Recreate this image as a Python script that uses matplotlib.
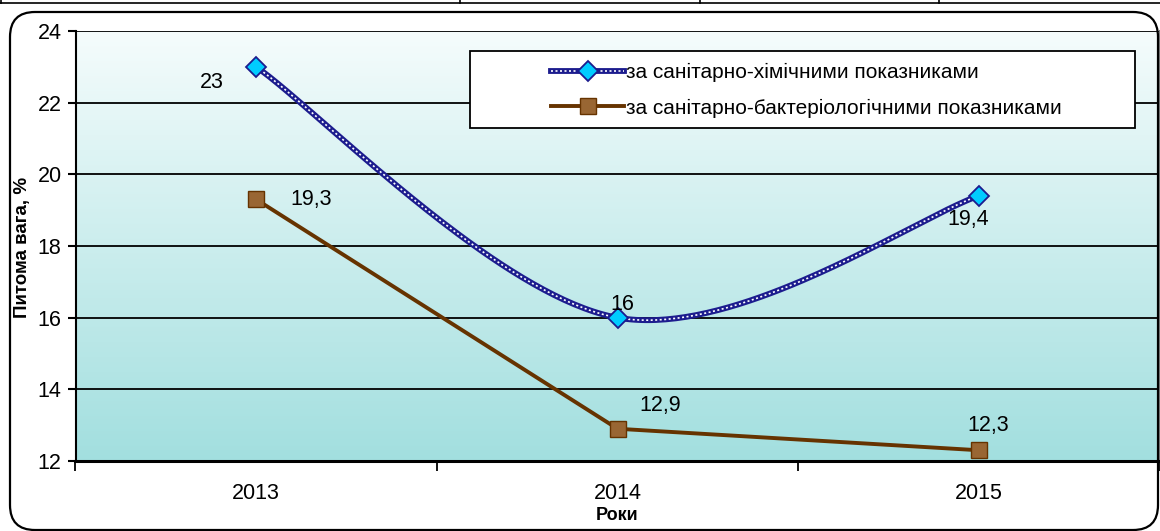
import matplotlib
matplotlib.use('Agg')
import matplotlib.pyplot as plt
import numpy as np
from matplotlib.colors import LinearSegmentedColormap
from matplotlib.patches import FancyBboxPatch, Rectangle
from matplotlib.lines import Line2D
from matplotlib.legend_handler import HandlerTuple

plt.rcParams['font.family'] = ['Liberation Sans', 'DejaVu Sans']

# data
years = ['2013', '2014', '2015']
chem = [23, 16, 19.4]
bact = [19.3, 12.9, 12.3]
chem_labels = ['23', '16', '19,4']
bact_labels = ['19,3', '12,9', '12,3']
name_chem = 'за санітарно-хімічними показниками'
name_bact = 'за санітарно-бактеріологічними показниками'

W, H = 1160, 531
fig = plt.figure(figsize=(W / 100, H / 100), dpi=100)

# smoothed line like excel (catmull-rom bezier)
def smooth(xs, ys, n=80):
    p = np.column_stack([xs, ys]).astype(float)
    res = []
    for i in range(len(p) - 1):
        p0 = p[max(i - 1, 0)]
        p1 = p[i]
        p2 = p[i + 1]
        p3 = p[min(i + 2, len(p) - 1)]
        c1 = p1 + (p2 - p0) / 6
        c2 = p2 - (p3 - p1) / 6
        t = np.linspace(0, 1, n)[:, None]
        b = (1 - t) ** 3 * p1 + 3 * (1 - t) ** 2 * t * c1 + 3 * (1 - t) * t ** 2 * c2 + t ** 3 * p2
        res.append(b)
    b = np.vstack(res)
    return b[:, 0], b[:, 1]

x = np.arange(len(years))

ax = fig.add_axes([75.5 / W, 1 - 461 / H, 1084 / W, 430 / H])
ax.set_xlim(-0.5, 2.5)
ax.set_ylim(12, 24)

# gradient background
cmap = LinearSegmentedColormap.from_list('bg', ['#f5fcfc', '#a2dfdf'])
ax.imshow(np.linspace(0, 1, 256).reshape(-1, 1), extent=[-0.5, 2.5, 12, 24],
          aspect='auto', cmap=cmap, origin='upper', zorder=0)

ax.set_yticks(np.arange(12, 25, 2))
ax.yaxis.grid(True, color='black', lw=1.3)
ax.set_axisbelow(True)
ax.tick_params(axis='y', length=6, width=1.5, labelsize=15.5, pad=4)

ax.set_xticks(x)
ax.set_xticklabels(years)
ax.set_xticks([-0.5, 0.5, 1.5, 2.5], minor=True)
ax.tick_params(axis='x', which='major', length=0, labelsize=15.5, pad=16)
ax.tick_params(axis='x', which='minor', length=7, width=1.3)

ax.spines['top'].set_visible(False)
ax.spines['left'].set_linewidth(1.5)
ax.spines['bottom'].set_linewidth(2.2)
ax.spines['right'].set_color('#808080')
ax.spines['right'].set_linewidth(1.5)

# chemical - smooth patterned line
blue = '#1c1c8e'
sx, sy = smooth(x, chem)
ax.plot(sx, sy, color=blue, lw=4.2, zorder=3, solid_capstyle='butt')
ax.plot(sx, sy, color='white', lw=1.2, ls=(0, (1.2, 1.5)), zorder=3.1)
ax.plot(x, chem, ls='none', marker='D', ms=10, mfc='#00ccff', mec=blue, mew=1.3, zorder=4)

# bacteriological
ax.plot(x, bact, color='#663300', lw=2.8, marker='s', ms=11, mfc='#996633', mec='#663300',
        mew=1, zorder=3)

# data labels
chem_off = [(-44, -16), (5, 13), (-11, -24)]
bact_off = [(55, 0), (43, 23), (9, 25)]
for i in range(len(years)):
    ax.annotate(chem_labels[i], (x[i], chem[i]), xytext=chem_off[i], textcoords='offset pixels',
                ha='center', va='center', fontsize=15.5, zorder=5)
    ax.annotate(bact_labels[i], (x[i], bact[i]), xytext=bact_off[i], textcoords='offset pixels',
                ha='center', va='center', fontsize=15.5, zorder=5)

ax.set_xlabel('Роки', fontsize=13, fontweight='bold', labelpad=2)
fig.text(23 / W, 1 - 247 / H, 'Питома вага, %', rotation=90, ha='center', va='center',
         fontsize=13.5, fontweight='bold')

# legend
fig.add_artist(Rectangle((470 / W, 1 - 128 / H), 665 / W, 77 / H, transform=fig.transFigure,
                         facecolor='white', edgecolor='black', lw=1.3, zorder=5))
h1 = (Line2D([], [], color=blue, lw=4.2),
      Line2D([], [], color='white', lw=1.2, ls=(0, (1.2, 1.5))),
      Line2D([], [], ls='none', marker='D', ms=10, mfc='#00ccff', mec=blue, mew=1.3))
h2 = Line2D([], [], color='#663300', lw=2.8, marker='s', ms=11, mfc='#996633', mec='#663300', mew=1)
leg = fig.legend([h1, h2], [name_chem, name_bact], loc='center left',
                 bbox_to_anchor=(541 / W, 1 - 90.5 / H), frameon=False, fontsize=15,
                 handlelength=3.5, handletextpad=0.1, labelspacing=0.78, borderpad=0,
                 handler_map={tuple: HandlerTuple(ndivide=1)})
leg.set_zorder(6)

# outer rounded frame
fig.add_artist(FancyBboxPatch((0.10, 0.01), 11.48, 5.18, boxstyle='round,pad=0,rounding_size=0.25',
                              transform=fig.dpi_scale_trans, facecolor='none', edgecolor='black', lw=1.6))

# top table border
fig.add_artist(Line2D([0, 1], [1 - 3 / H, 1 - 3 / H], transform=fig.transFigure, color='black', lw=1.2))
for px in [1, 460, 700, 939]:
    fig.add_artist(Line2D([px / W, px / W], [1 - 3 / H, 1], transform=fig.transFigure, color='black', lw=1.2))

fig.savefig('out.png', dpi=100)
